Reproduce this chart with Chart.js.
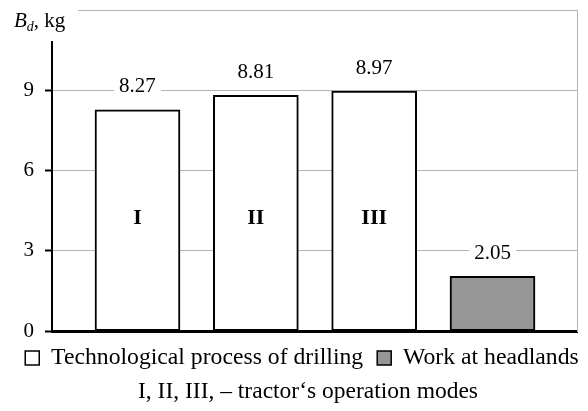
<!DOCTYPE html>
<html>
<head>
<meta charset="utf-8">
<script src="https://cdn.jsdelivr.net/npm/chart.js@4"></script>
<style>
  html, body { margin: 0; padding: 0; background: #fff; }
  #wrap { width: 588px; height: 411px; }
</style>
</head>
<body>
<div id="wrap"><canvas id="massChart"></canvas></div>
<script>
const modes = ["I", "II", "III", ""];
const massValues = [8.27, 8.81, 8.97, 2.05];
const barColors = ["#ffffff", "#ffffff", "#ffffff", "#969696"];
const yTicks = [0, 3, 6, 9, 12];
const legendNames = ["Technological process of drilling", "Work at headlands"];
const legendColors = ["#ffffff", "#969696"];
const footNote = "I, II, III, \u2013 tractor\u2018s operation modes";

const SERIF = "'Liberation Serif', 'Times New Roman', serif";

// value labels on a white box + mode labels inside the bars + axis title
const barText = {
  id: "barText",
  afterLayout(chart) {
    // legend and note sit a bit right of centre and lower in the original
    const lg = chart.legend, tb = chart.titleBlock;
    if (lg) { lg.left += 8; lg.right += 8; lg.top += 5; lg.bottom += 5; }
    if (tb) { tb.left += 14; tb.right += 14; tb.top += 3; tb.bottom += 3; }
  },
  afterDatasetsDraw(chart) {
    const { ctx, scales } = chart;
    const bars = chart.getDatasetMeta(0).data;
    ctx.save();
    ctx.textAlign = "center";
    ctx.textBaseline = "middle";
    bars.forEach((bar, i) => {
      const txt = massValues[i].toFixed(2);
      ctx.font = `21px ${SERIF}`;
      const w = ctx.measureText(txt).width;
      const ty = bar.y - 23;
      ctx.fillStyle = "#fff";
      ctx.fillRect(bar.x - w / 2 - 5, ty - 11, w + 10, 22);
      ctx.fillStyle = "#000";
      ctx.fillText(txt, bar.x, ty);
      if (modes[i]) {
        ctx.font = `bold 22px ${SERIF}`;
        ctx.fillText(modes[i], bar.x, scales.y.getPixelForValue(4.2));
      }
    });
    ctx.restore();
  },
  afterDraw(chart) {
    const { ctx, chartArea } = chart;
    ctx.save();
    ctx.fillStyle = "#fff";
    ctx.fillRect(0, 0, chartArea.left + 26, chartArea.top + 31);
    ctx.fillStyle = "#000";
    ctx.textBaseline = "alphabetic";
    ctx.textAlign = "left";
    let x = 14;
    ctx.font = `italic 21px ${SERIF}`;
    ctx.fillText("B", x, 27);
    x += ctx.measureText("B").width;
    ctx.font = `italic 14px ${SERIF}`;
    ctx.fillText("d", x, 31);
    x += ctx.measureText("d").width;
    ctx.font = `21px ${SERIF}`;
    ctx.fillText(", kg", x, 27);
    ctx.restore();
  }
};

new Chart(document.getElementById("massChart"), {
  type: "bar",
  data: {
    datasets: [{
      data: massValues.map((v, i) => ({ x: i, y: v })),
      backgroundColor: barColors,
      borderColor: "#000",
      borderWidth: 2,
      borderSkipped: false,
      barThickness: 85
    }]
  },
  options: {
    responsive: true,
    maintainAspectRatio: false,
    animation: false,
    layout: { padding: { top: 10, left: 0, right: 0, bottom: 0 } },
    scales: {
      x: {
        type: "linear",
        offset: false,
        min: -0.7225,
        max: 3.714,
        afterFit: (s) => { s.height = -4; },
        ticks: { display: false },
        grid: { display: false },
        border: { color: "#000", width: 3 }
      },
      y: {
        min: 0,
        max: 12,
        afterBuildTicks: (s) => { s.ticks = yTicks.map((v) => ({ value: v })); },
        afterFit: (s) => { s.width = 52; s.paddingTop = 0; s.paddingBottom = 0; },
        ticks: {
          color: "#000",
          padding: 11,
          font: { family: SERIF, size: 21 },
          callback: (v) => (v === 12 ? "" : v)
        },
        grid: { color: "#b4b4b4", tickColor: "#000", tickWidth: 2, tickLength: 7 },
        border: { color: "#000", width: 2 }
      },
      yR: {
        position: "right",
        min: 0,
        max: 12,
        afterFit: (s) => { s.width = 11; s.paddingTop = 0; s.paddingBottom = 0; },
        ticks: { display: false },
        grid: { display: false },
        border: { color: "#b4b4b4", width: 1 }
      }
    },
    plugins: {
      legend: {
        position: "bottom",
        labels: {
          color: "#000",
          font: { family: SERIF, size: 23.7 },
          boxWidth: 14,
          boxHeight: 14,
          padding: 14,
          generateLabels: () => legendNames.map((n, i) => ({
            text: n,
            fillStyle: legendColors[i],
            strokeStyle: "#000",
            lineWidth: 1.5,
            hidden: false,
            datasetIndex: 0
          }))
        }
      },
      title: {
        display: true,
        position: "bottom",
        text: footNote,
        color: "#000",
        font: { family: SERIF, size: 23.5, weight: "normal" },
        padding: { top: 0, bottom: 4 }
      },
      tooltip: { enabled: false }
    }
  },
  plugins: [barText]
});
</script>
</body>
</html>
